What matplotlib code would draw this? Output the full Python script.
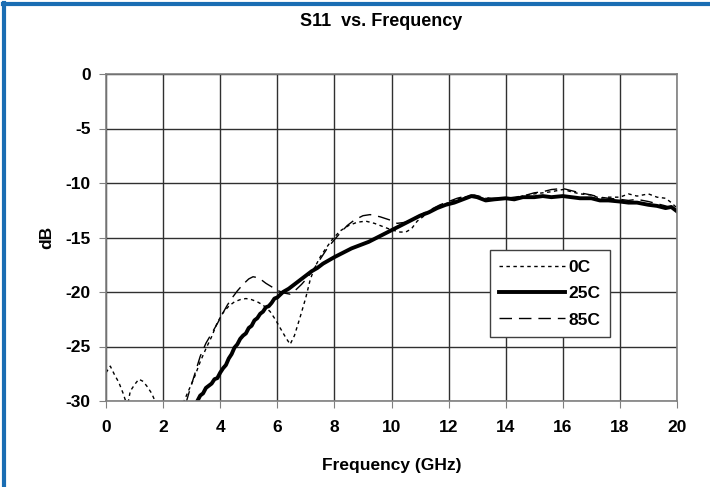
import numpy as np
import matplotlib
matplotlib.use("Agg")
import matplotlib.pyplot as plt
from matplotlib.lines import Line2D

plt.rcParams['font.family'] = ['Liberation Sans', 'DejaVu Sans']
plt.rcParams['font.weight'] = 'bold'
plt.rcParams['axes.unicode_minus'] = False

# S11 traces (GHz, dB)
freq_25c = [3.2, 3.3, 3.4, 3.5, 3.6, 3.7, 3.8, 3.9, 4.0, 4.1, 4.2, 4.3, 4.4, 4.5,
            4.6, 4.7, 4.8, 4.9, 5.0, 5.1, 5.2, 5.3, 5.4, 5.5, 5.6, 5.7, 5.8,
            5.9, 6.0, 6.2, 6.4, 6.6, 6.8, 7.0, 7.2, 7.4, 7.6, 7.8, 8.0, 8.3,
            8.6, 8.9, 9.2, 9.5, 9.8, 10.1, 10.4, 10.7, 11.0, 11.3, 11.6, 11.9,
            12.2, 12.5, 12.8, 13.0, 13.3, 13.6, 14.0, 14.3, 14.6, 15.0, 15.3,
            15.6, 16.0, 16.3, 16.6, 17.0, 17.3, 17.6, 18.0, 18.3, 18.6, 19.0,
            19.3, 19.6, 19.8, 20.0]
db_25c = [-30.0, -29.5, -29.3, -28.8, -28.6, -28.4, -28.0, -27.9, -27.4, -27.0,
          -26.7, -26.1, -25.7, -25.1, -24.8, -24.3, -24.0, -23.8, -23.3, -23.1,
          -22.6, -22.4, -22.0, -21.8, -21.4, -21.3, -21.0, -20.6, -20.5, -20.0,
          -19.7, -19.3, -18.9, -18.5, -18.1, -17.8, -17.4, -17.1, -16.8, -16.4,
          -16.0, -15.7, -15.4, -15.0, -14.6, -14.2, -13.8, -13.4, -13.0, -12.7,
          -12.3, -12.0, -11.8, -11.5, -11.2, -11.3, -11.6, -11.5, -11.4, -11.5,
          -11.3, -11.3, -11.2, -11.3, -11.2, -11.3, -11.4, -11.4, -11.6, -11.6,
          -11.7, -11.8, -11.8, -12.0, -12.1, -12.3, -12.2, -12.6]

freq_0c = [0.0, 0.15, 0.3, 0.45, 0.6, 0.75, 0.85, 1.0, 1.15, 1.3, 1.45, 1.6, 1.75,
           1.85, 2.3, 2.7, 2.9, 3.1, 3.3, 3.5, 3.7, 3.9, 4.1, 4.3, 4.5, 4.7, 4.9,
           5.1, 5.3, 5.5, 5.75, 5.95, 6.1, 6.3, 6.45, 6.6, 6.8, 7.0, 7.15, 7.3,
           7.5, 7.7, 7.95, 8.2, 8.5, 8.8, 9.1, 9.4, 9.7, 10.0, 10.3, 10.5, 10.7,
           10.9, 11.2, 11.5, 11.8, 12.1, 12.4, 12.7, 13.0, 13.3, 13.6, 14.0,
           14.3, 14.6, 15.0, 15.3, 15.6, 16.0, 16.3, 16.6, 17.0, 17.3, 17.6,
           18.0, 18.3, 18.6, 19.0, 19.3, 19.6, 19.8, 20.0]
db_0c = [-27.4, -26.8, -27.6, -28.3, -29.3, -30.5, -29.1, -28.5, -28.0, -28.2,
         -28.7, -29.3, -30.2, -31.0, np.nan, -30.2, -29.0, -27.8, -26.4, -25.2,
         -24.1, -22.8, -21.9, -21.3, -20.9, -20.7, -20.6, -20.7, -20.9, -21.2,
         -21.8, -22.6, -23.3, -24.2, -24.8, -24.0, -22.3, -20.5, -18.9, -17.8,
         -16.8, -16.0, -15.1, -14.4, -13.9, -13.6, -13.5, -13.7, -14.0, -14.3,
         -14.5, -14.5, -14.2, -13.5, -12.9, -12.4, -12.0, -11.7, -11.4, -11.2,
         -11.3, -11.4, -11.5, -11.4, -11.4, -11.2, -11.0, -10.9, -10.8, -10.6,
         -10.8, -11.0, -11.1, -11.4, -11.3, -11.3, -11.0, -11.2, -11.0, -11.3,
         -11.4, -11.8, -12.3]

freq_85c = [2.8, 2.9, 3.1, 3.3, 3.5, 3.7, 3.9, 4.1, 4.25, 4.4, 4.6, 4.8, 5.0, 5.15,
            5.35, 5.6, 5.85, 6.05, 6.25, 6.45, 6.65, 6.85, 7.05, 7.25, 7.5, 7.75,
            8.0, 8.2, 8.45, 8.7, 9.0, 9.25, 9.6, 9.95, 10.2, 10.5, 10.8, 11.1,
            11.4, 11.7, 12.0, 12.3, 12.6, 12.9, 13.2, 13.5, 14.0, 14.3, 14.6,
            15.0, 15.3, 15.6, 16.0, 16.3, 16.6, 17.0, 17.3, 17.6, 18.0, 18.3,
            18.6, 19.0, 19.3, 19.6, 20.0]
db_85c = [-30.2, -29.3, -27.6, -25.9, -24.7, -23.8, -22.9, -21.9, -21.2, -20.6,
          -19.9, -19.3, -18.8, -18.6, -18.7, -19.2, -19.6, -19.9, -20.1, -20.2,
          -19.8, -19.3, -18.7, -18.0, -17.0, -16.0, -15.2, -14.6, -13.9, -13.4,
          -13.0, -12.9, -13.1, -13.4, -13.7, -13.6, -13.2, -12.8, -12.4, -12.0,
          -11.7, -11.4, -11.2, -11.1, -11.3, -11.4, -11.4, -11.3, -11.2, -10.9,
          -10.8, -10.6, -10.5, -10.7, -10.9, -11.1, -11.3, -11.4, -11.5, -11.6,
          -11.5, -11.7, -11.9, -12.1, -12.5]

xticks = list(range(0, 21, 2))
yticks = list(range(-30, 1, 5))

fig = plt.figure(figsize=(7.10, 4.87), dpi=100)
ax = fig.add_axes([106 / 710, 1 - 401 / 487, 571 / 710, 327 / 487])

ax.plot(freq_0c, db_0c, color='black', lw=1.0, ls=(0, (2.5, 2.5)), label='0C')
ax.plot(freq_25c, db_25c, color='black', lw=2.8, label='25C')
ax.plot(freq_85c, db_85c, color='black', lw=1.0, ls=(0, (9, 5)), label='85C')

ax.set_xlim(0, 20)
ax.set_ylim(-30, 0)
ax.set_xticks(xticks)
ax.set_yticks(yticks)
ax.grid(True, color='#303030', lw=1.0)
ax.set_axisbelow(True)
for sp in ax.spines.values():
    sp.set_color('#808080')
    sp.set_linewidth(1.2)
ax.tick_params(direction='out', length=5, color='#808080', labelsize=12.5, pad=6)
ax.tick_params(axis='x', pad=9)

ax.set_xlabel('Frequency (GHz)', fontsize=12.5, fontweight='bold', labelpad=16)
ax.set_ylabel('dB', fontsize=12.5, fontweight='bold', labelpad=8)
fig.text(381 / 710, 1 - 22 / 487, 'S11  vs. Frequency', fontsize=13,
         fontweight='bold', ha='center', va='center')

leg = ax.legend(loc='upper left', bbox_to_anchor=(0.672, 0.462), fontsize=12.5,
                frameon=True, fancybox=False, handlelength=3.8,
                borderpad=0.55, labelspacing=0.65, handletextpad=0.2,
                borderaxespad=0)
leg.get_frame().set_edgecolor('#404040')
leg.get_frame().set_linewidth(1.0)
leg.get_frame().set_alpha(1)

# blue frame on top and left edge
blue = '#1a6db3'
fig.add_artist(Line2D([3 / 710, 1], [1 - 4 / 487, 1 - 4 / 487], color=blue, lw=3,
                      transform=fig.transFigure))
fig.add_artist(Line2D([4 / 710, 4 / 710], [0, 1 - 3 / 487], color=blue, lw=3,
                      transform=fig.transFigure))

fig.savefig('out.png', dpi=100)
